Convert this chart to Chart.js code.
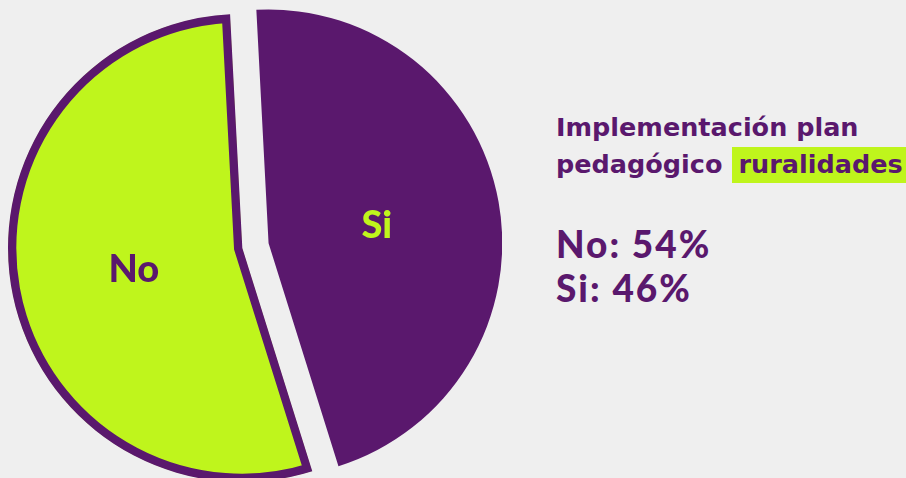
<!DOCTYPE html>
<html lang="es">
<head>
  <meta charset="UTF-8" />
  <title>Implementación plan pedagógico ruralidades</title>
  <script src="https://cdn.jsdelivr.net/npm/chart.js"></script>
  <style>
    html, body {
      margin: 0;
      width: 906px;
      height: 478px;
      overflow: hidden;
      background: #efefef;
      color: #5a186d;
    }

    .pie-box {
      position: absolute;
      left: -18px;
      top: -12px;
      width: 520px;
      height: 520px;
    }

    .title {
      position: absolute;
      left: 556px;
      top: 109px;
      margin: 0;
      font-family: "DejaVu Sans", sans-serif;
      font-size: 25.5px;
      font-weight: bold;
      line-height: 37px;
      white-space: nowrap;
    }

    .hl {
      background: #bff51c;
      margin-left: 10px;
      padding: 2px 12px 4px 6px;
    }

    .values {
      position: absolute;
      left: 556px;
      top: 222px;
      font-family: Lato, sans-serif;
      font-size: 37px;
      font-weight: 900;
      line-height: 44px;
      letter-spacing: 2px;
    }
  </style>
</head>
<body>

<div class="pie-box"><canvas id="pie"></canvas></div>

<p class="title">Implementación plan<br>pedagógico<span class="hl">ruralidades</span></p>
<div class="values" id="values"></div>

<script>
  const labels = ['Si', 'No'];
  const values = [46, 54];
  const colors = ['#5a186d', '#bff51c'];
  const labelColors = ['#bff51c', '#5a186d'];
  const shift = [27, 0]; // how far each slice is pulled out

  // text on the right: No first, then Si
  document.getElementById('values').innerHTML =
    [1, 0].map(i => `${labels[i]}: ${values[i]}%`).join('<br>');

  // draw slices ourselves so the pulled-out one keeps its radius
  const explode = {
    id: 'explode',
    beforeDatasetDraw(chart, args) {
      const ctx = chart.ctx;
      args.meta.data.forEach((arc, i) => {
        const mid = (arc.startAngle + arc.endAngle) / 2;
        ctx.save();
        ctx.translate(Math.cos(mid) * shift[i], Math.sin(mid) * shift[i]);
        arc.draw(ctx);
        ctx.restore();
      });
      return false;
    },
    afterDatasetsDraw(chart) {
      const ctx = chart.ctx;
      const meta = chart.getDatasetMeta(0);
      ctx.save();
      ctx.font = '900 38px Lato, sans-serif';
      ctx.textAlign = 'center';
      ctx.textBaseline = 'middle';
      meta.data.forEach((arc, i) => {
        const mid = (arc.startAngle + arc.endAngle) / 2;
        const r = arc.outerRadius * 0.47 + shift[i];
        ctx.fillStyle = labelColors[i];
        ctx.fillText(labels[i], arc.x + Math.cos(mid) * r, arc.y + Math.sin(mid) * r + 2);
      });
      ctx.restore();
    }
  };

  new Chart(document.getElementById('pie'), {
    type: 'pie',
    data: {
      labels: labels,
      datasets: [{
        data: values,
        backgroundColor: colors,
        borderColor: '#5a186d',
        borderWidth: [0, 8],
        borderAlign: 'inner',
        borderJoinStyle: 'miter',
        hoverOffset: 0
      }]
    },
    options: {
      responsive: true,
      maintainAspectRatio: false,
      animation: false,
      rotation: -3,
      radius: 234,
      layout: { padding: 0 },
      plugins: {
        legend: { display: false },
        tooltip: { enabled: false }
      }
    },
    plugins: [explode]
  });
</script>

</body>
</html>
